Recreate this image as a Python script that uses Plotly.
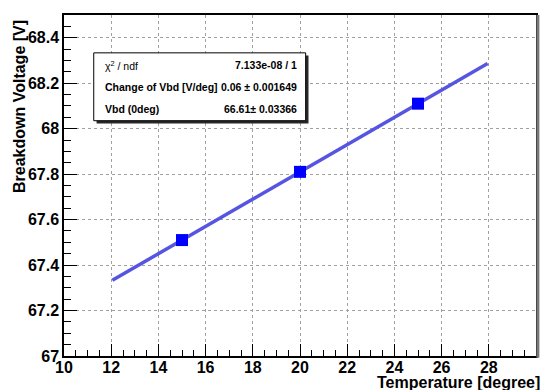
import plotly.graph_objects as go

# data
temperature = [15, 20, 25]
breakdown_v = [67.51, 67.81, 68.11]
fit_x = [12.05, 27.95]
fit_y = [67.333, 68.287]
x_ticks = [10, 12, 14, 16, 18, 20, 22, 24, 26, 28, 30]
y_ticks = [67, 67.2, 67.4, 67.6, 67.8, 68, 68.2, 68.4]
y_tick_labels = ["67", "67.2", "67.4", "67.6", "67.8", "68", "68.2", "68.4"]
stat_labels = ["χ<sup>2</sup> / ndf", "Change of Vbd [V/deg]", "Vbd (0deg)"]
stat_values = ["7.133e-08 / 1", "0.06 ± 0.001649", "66.61± 0.03366"]

FONT = "Liberation Sans, Arial, sans-serif"

fig = go.Figure()
fig.add_trace(go.Scatter(x=fit_x, y=fit_y, mode="lines",
                         line=dict(color="rgb(85,85,225)", width=3.5),
                         showlegend=False, hoverinfo="skip"))
fig.add_trace(go.Scatter(x=temperature, y=breakdown_v, mode="markers",
                         marker=dict(symbol="square", size=12, color="rgb(0,0,255)",
                                     line=dict(width=0)),
                         showlegend=False))

axis_common = dict(
    showline=True, linecolor="black", linewidth=1.5, mirror=True,
    ticks="inside", tickcolor="black", tickwidth=1,
    showgrid=True, gridcolor="rgb(160,160,160)", griddash="dot", gridwidth=1,
    zeroline=False,
    tickfont=dict(family=FONT, size=16, color="black", weight="bold"),
)

fig.update_xaxes(range=[10, 30], tickvals=x_ticks, ticktext=[str(v) for v in x_ticks],
                 ticklen=12, ticklabelstandoff=-4,
                 minor=dict(ticks="inside", ticklen=6, dtick=0.5, tickcolor="black", showgrid=False),
                 **axis_common)
fig.update_yaxes(range=[67, 68.5], tickvals=y_ticks, ticktext=y_tick_labels,
                 ticklen=13,
                 minor=dict(ticks="inside", ticklen=7, dtick=0.05, tickcolor="black", showgrid=False),
                 **axis_common)

# stats box with shadow
bx0, bx1, by0, by1 = 0.063, 0.512, 0.69, 0.889
fig.add_shape(type="rect", xref="paper", yref="paper",
              x0=bx0 + 0.006, x1=bx1 + 0.006, y0=by0 - 0.008, y1=by1 - 0.008,
              line=dict(width=0), fillcolor="rgb(40,40,40)")
fig.add_shape(type="rect", xref="paper", yref="paper",
              x0=bx0, x1=bx1, y0=by0, y1=by1,
              line=dict(color="black", width=1), fillcolor="white")

rows_y = [0.853, 0.788, 0.724]
for lab, val, ry in zip(stat_labels, stat_values, rows_y):
    fig.add_annotation(xref="paper", yref="paper", x=bx0 + 0.019, y=ry, text=lab,
                       showarrow=False, xanchor="left", yanchor="middle",
                       font=dict(family=FONT, size=10.5, color="black",
                                 weight="normal" if lab.startswith("χ") else "bold"))
    fig.add_annotation(xref="paper", yref="paper", x=bx1 - 0.015, y=ry, text=val,
                       showarrow=False, xanchor="right", yanchor="middle",
                       font=dict(family=FONT, size=10.5, color="black", weight="bold"))

# right gray shadow of frame
fig.add_shape(type="line", xref="paper", yref="paper", x0=1.004, x1=1.004, y0=-0.005, y1=1.0,
              line=dict(color="rgb(120,120,120)", width=3))

# axis titles (ROOT style, aligned at end of axis)
fig.add_annotation(xref="paper", yref="paper", x=1.012, y=-0.048, text="Temperature [degree]",
                   showarrow=False, xanchor="right", yanchor="top",
                   font=dict(family=FONT, size=16, color="black", weight="bold"))
fig.add_annotation(xref="paper", yref="paper", x=-0.093, y=0.99, text="Breakdown Voltage [V]",
                   showarrow=False, xanchor="center", yanchor="top", textangle=-90,
                   font=dict(family=FONT, size=16, color="black", weight="bold"))

fig.update_layout(width=544, height=390,
                  margin=dict(l=64, r=6, t=15, b=34),
                  paper_bgcolor="white", plot_bgcolor="white")

fig.write_html("out.html")
